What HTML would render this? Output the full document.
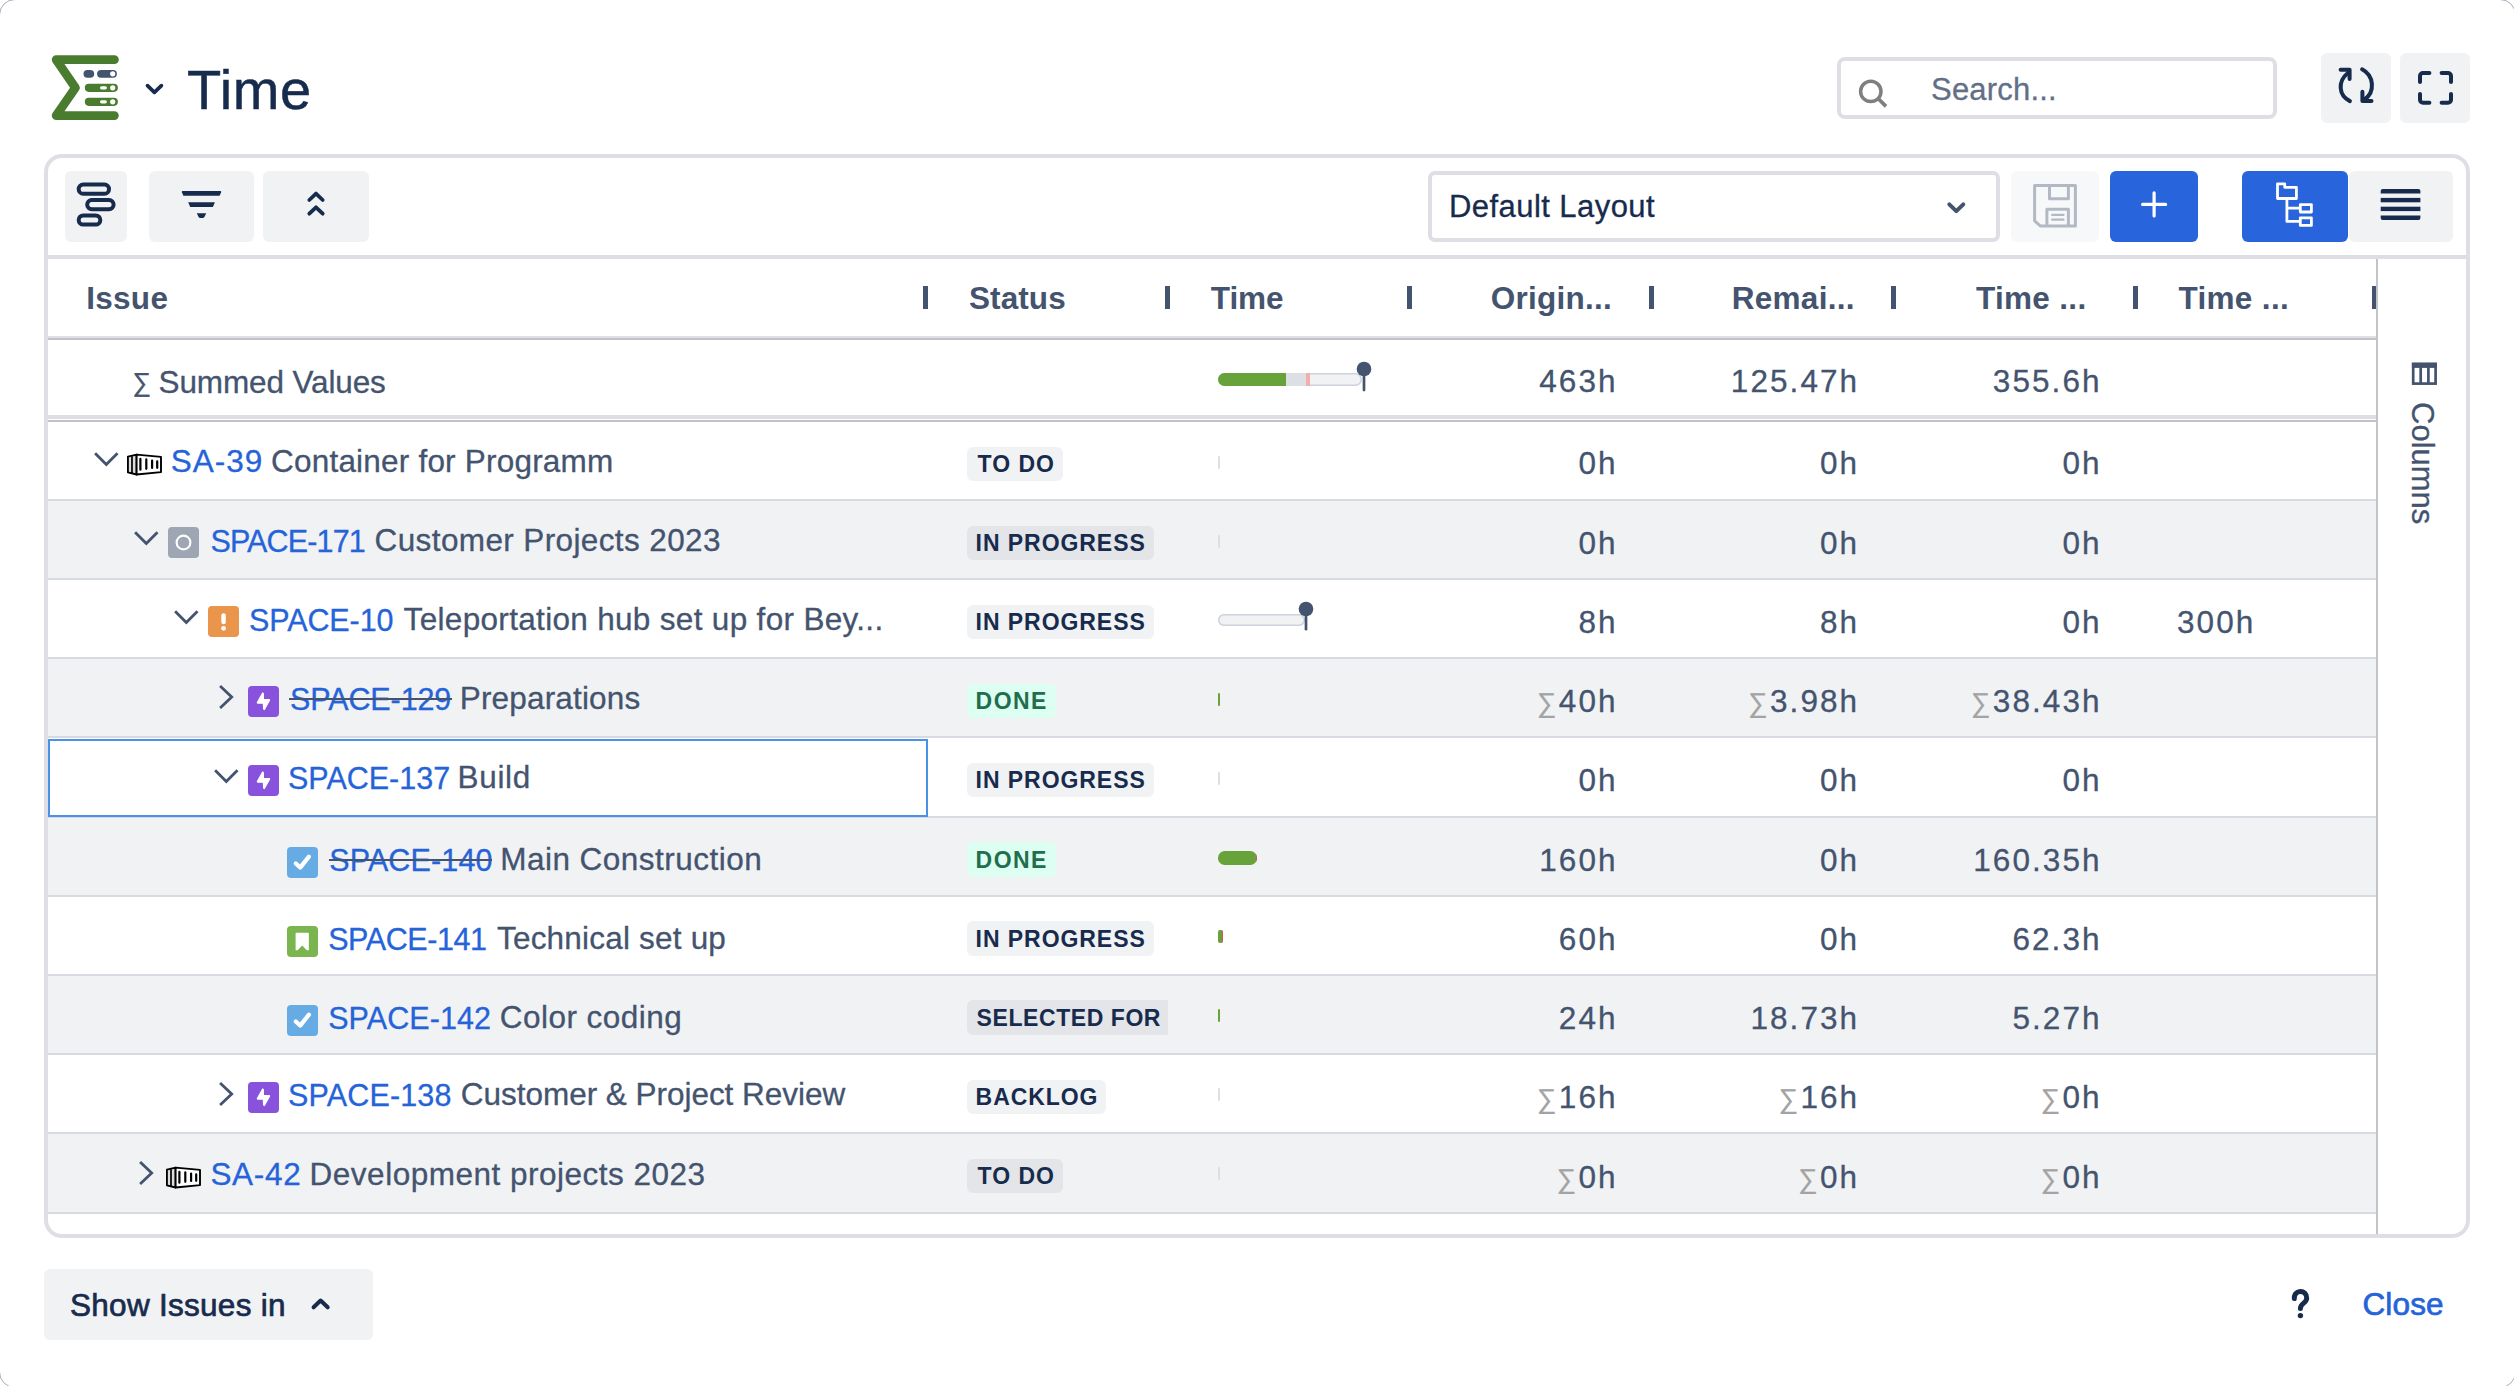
<!DOCTYPE html>
<html lang="en"><head><meta charset="utf-8"><title>Time</title>
<style>
html,body{margin:0;padding:0;background:#fff;}
body{width:2514px;height:1386px;overflow:hidden;position:relative;font-family:"Liberation Sans",sans-serif;}
#app{position:absolute;left:0;top:0;width:2514px;height:1386px;overflow:hidden;background:#fff;}
#app div,#app svg.a{position:absolute;box-sizing:border-box;}
.t{line-height:1;white-space:nowrap;-webkit-text-stroke-width:0.3px;}
.t span{position:static;}
.btn{background:#f1f2f4;border-radius:6px;}
.loz{border-radius:6px;background:rgba(9,30,66,0.06);}
.lozg{border-radius:6px;background:#dcfff1;}
</style></head><body><div id="app">
<div style="left:-1.5px;top:-1.5px;width:2517px;height:1389px;border:1.5px solid #a7abbd;border-radius:16px;"></div>
<svg class="a" style="left:46px;top:50px;" width="80" height="76" viewBox="46 50 80 76">
<path d="M114.4 59.7 H56.2 L75.4 87.7 L56.2 115.6 H114.4" fill="none" stroke="#4a7c2f" stroke-width="8.8" stroke-linecap="round" stroke-linejoin="round"/>
<rect x="83.5" y="69.9" width="10.7" height="7.8" rx="3.9" fill="#44546f"/>
<rect x="97.1" y="69.9" width="19.8" height="7.8" rx="3.9" fill="#44546f"/>
<circle cx="112.7" cy="73.8" r="2.6" fill="#fff"/>
<rect x="84.8" y="83.8" width="33.1" height="8.1" rx="4.05" fill="#4a7c2f"/>
<rect x="100" y="86.3" width="6.9" height="3.1" rx="1.55" fill="#fff"/>
<circle cx="112.7" cy="87.8" r="2.6" fill="#fff"/>
<rect x="84.8" y="97.8" width="33.1" height="8.1" rx="4.05" fill="#4a7c2f"/>
<rect x="100" y="100.3" width="6.9" height="3.1" rx="1.55" fill="#fff"/>
<circle cx="112.7" cy="101.8" r="2.6" fill="#fff"/>
</svg>
<svg class="a" style="left:140px;top:78px;" width="30" height="24" viewBox="140 78 30 24"><path d="M147.5 85.6 L154.4 92.3 L161.4 85.6" fill="none" stroke="#172b4d" stroke-width="3.7" stroke-linecap="round" stroke-linejoin="round"/></svg>
<div class="t" id="title" style="left:187.00px;top:62.20px;font-size:56px;color:#172b4d;letter-spacing:0.59px;-webkit-text-stroke:0.5px #172b4d;">Time</div>
<div style="left:1837px;top:57px;width:440px;height:62px;border:4px solid #dddfe5;border-radius:8px;background:#fff;"></div>
<svg class="a" style="left:1855px;top:75px;" width="36" height="36" viewBox="1855 75 36 36"><circle cx="1870.8" cy="91.4" r="10.2" fill="none" stroke="#7f7f7f" stroke-width="3.5"/><path d="M1878.6 99 L1886 106.4" stroke="#7f7f7f" stroke-width="3.7" stroke-linecap="butt"/></svg>
<div class="t" id="search" style="left:1931.00px;top:73.56px;font-size:31px;color:#626f86;letter-spacing:0.20px;">Search...</div>
<div class="btn" style="left:2321px;top:53px;width:70px;height:70px;"></div>
<div class="btn" style="left:2400px;top:53px;width:70px;height:70px;"></div>
<svg class="a" style="left:2330px;top:60px;" width="52" height="52" viewBox="2330 60 52 52">
<g fill="none" stroke="#172b4d" stroke-width="4" stroke-linecap="round" stroke-linejoin="round">
<path d="M2347.6 73.2 C2337.5 81.5 2338.5 95.5 2349.9 101.1"/>
<path d="M2340.6 69.8 H2349.6 V79"/>
<path d="M2362.1 69.3 C2374 75.5 2375.5 92 2364.5 99.5"/>
<path d="M2362.4 91.7 V101.1 H2371.5"/>
</g></svg>
<svg class="a" style="left:2410px;top:64px;" width="52" height="48" viewBox="2410 64 52 48">
<g fill="none" stroke="#172b4d" stroke-width="4" stroke-linecap="round" stroke-linejoin="round">
<path d="M2420 81.9 V76 a3 3 0 0 1 3 -3 H2429.4"/>
<path d="M2441.6 73 H2448 a3 3 0 0 1 3 3 V81.9"/>
<path d="M2420 93.9 V99.8 a3 3 0 0 0 3 3 H2429.4"/>
<path d="M2441.6 102.8 H2448 a3 3 0 0 0 3 -3 V93.9"/>
</g></svg>
<div style="left:44px;top:154px;width:2426px;height:1084px;border:4px solid #dddfe5;border-radius:18px;background:#fff;"></div>
<div class="btn" style="left:65px;top:171px;width:62px;height:71px;"></div>
<div class="btn" style="left:149px;top:171px;width:105px;height:71px;"></div>
<div class="btn" style="left:263px;top:171px;width:106px;height:71px;"></div>
<svg class="a" style="left:70px;top:176px;" width="52" height="60" viewBox="70 176 52 60">
<g fill="none" stroke="#172b4d" stroke-width="4">
<rect x="78.7" y="184.6" width="30.3" height="9.1" rx="4.55"/>
<rect x="87.2" y="200" width="26.4" height="9.2" rx="4.6"/>
<rect x="78.7" y="215.4" width="21.6" height="9.2" rx="4.6"/>
</g></svg>
<svg class="a" style="left:176px;top:186px;" width="52" height="38" viewBox="176 186 52 38">
<g fill="#172b4d">
<path d="M182.6 191.1 H220.4 Q221.6 191.1 221.1 192.3 L219.6 195.8 H183.4 L181.9 192.3 Q181.4 191.1 182.6 191.1 Z"/>
<path d="M188.2 202.3 H214.9 L212.9 207 H190.2 Z"/>
<path d="M196.8 213.2 H206.2 L204.4 217 Q203.9 217.9 202.9 217.9 H200.1 Q199.1 217.9 198.6 217 Z"/>
</g></svg>
<svg class="a" style="left:300px;top:186px;" width="32" height="34" viewBox="300 186 32 34">
<g fill="none" stroke="#172b4d" stroke-width="3.8" stroke-linecap="round" stroke-linejoin="round">
<path d="M309.3 200 L316 193.6 L322.7 200"/>
<path d="M309.3 213.7 L316 207.3 L322.7 213.7"/>
</g></svg>
<div style="left:1428px;top:171px;width:572px;height:71px;border:4px solid #dddfe5;border-radius:7px;background:#fff;"></div>
<div class="t" id="deflayout" style="left:1449.00px;top:190.76px;font-size:31px;color:#172b4d;letter-spacing:0.44px;">Default Layout</div>
<svg class="a" style="left:1940px;top:196px;" width="32" height="24" viewBox="1940 196 32 24"><path d="M1949.3 204.3 L1956.3 211.2 L1963.3 204.3" fill="none" stroke="#44546f" stroke-width="4" stroke-linecap="round" stroke-linejoin="round"/></svg>
<div style="left:2011px;top:171px;width:88px;height:71px;background:#f7f8f9;border-radius:6px;"></div>
<svg class="a" style="left:2028px;top:180px;" width="54" height="52" viewBox="2028 180 54 52">
<g fill="none" stroke="#b3b9c4" stroke-width="3" stroke-linejoin="round">
<path d="M2034.6 185.6 H2075.4 V225.9 H2040.3 L2034.6 220.8 Z"/>
<path d="M2049.5 185.6 V198.8 H2068.4 V185.6"/>
<path d="M2046.9 225.9 V209.2 H2068.4 V225.9"/>
</g>
<path d="M2051.3 214.9 H2064.4 M2051.3 219.7 H2064.4" stroke="#b3b9c4" stroke-width="2.2"/>
</svg>
<div style="left:2110px;top:171px;width:88px;height:71px;background:#2864dc;border-radius:6px;"></div>
<svg class="a" style="left:2136px;top:186px;" width="36" height="36" viewBox="2136 186 36 36"><path d="M2142.6 204.4 H2165.6 M2154.1 192.9 V215.9" stroke="#fff" stroke-width="3.2" stroke-linecap="round"/></svg>
<div style="left:2348.5px;top:171px;width:104.5px;height:71px;background:#f1f2f4;border-radius:6px;"></div>
<div style="left:2242px;top:171px;width:106px;height:71px;background:#2864dc;border-radius:6px;"></div>
<svg class="a" style="left:2270px;top:178px;" width="50" height="54" viewBox="2270 178 50 54">
<g fill="none" stroke="#fff" stroke-width="2.8" stroke-linejoin="round">
<path d="M2277.5 183.8 H2284.7 V187.3 H2296.4 V198.5 H2277.5 Z"/>
<path d="M2286.9 198.5 V221.4 H2300.3 M2286.9 208.1 H2300.3"/>
<rect x="2300.3" y="204.6" width="11.1" height="7.4"/>
<rect x="2300.3" y="217.8" width="11.1" height="7.6"/>
</g></svg>
<svg class="a" style="left:2378px;top:186px;" width="46" height="36" viewBox="2378 186 46 36">
<g fill="#172b4d">
<path d="M2382.7 189 H2418.4 a2 2 0 0 1 2 2 V193.5 H2380.7 V191 a2 2 0 0 1 2 -2 Z"/>
<rect x="2380.7" y="197.9" width="39.7" height="4.4"/>
<rect x="2380.7" y="206.7" width="39.7" height="4.4"/>
<path d="M2380.7 215.4 H2420.4 V218 a2 2 0 0 1 -2 2 H2382.7 a2 2 0 0 1 -2 -2 Z"/>
</g></svg>
<div style="left:48px;top:255px;width:2418px;height:4px;background:#dddfe5;"></div>
<div class="t" id="h_issue" style="left:86.20px;top:282.54px;font-size:31.5px;color:#44546f;font-weight:700;-webkit-text-stroke-width:0;letter-spacing:0.29px;">Issue</div>
<div class="t" id="h_status" style="left:969.00px;top:282.54px;font-size:31.5px;color:#44546f;font-weight:700;-webkit-text-stroke-width:0;letter-spacing:0.09px;">Status</div>
<div class="t" id="h_time" style="left:1210.80px;top:282.54px;font-size:31.5px;color:#44546f;font-weight:700;-webkit-text-stroke-width:0;letter-spacing:-0.09px;">Time</div>
<div class="t" id="h_orig" style="left:1490.80px;top:282.54px;font-size:31.5px;color:#44546f;font-weight:700;-webkit-text-stroke-width:0;letter-spacing:0.24px;">Origin...</div>
<div class="t" id="h_rem" style="left:1731.80px;top:282.54px;font-size:31.5px;color:#44546f;font-weight:700;-webkit-text-stroke-width:0;letter-spacing:0.26px;">Remai...</div>
<div class="t" id="h_ts" style="left:1976.00px;top:282.54px;font-size:31.5px;color:#44546f;font-weight:700;-webkit-text-stroke-width:0;letter-spacing:0.31px;">Time ...</div>
<div class="t" id="h_ts2" style="left:2178.40px;top:282.54px;font-size:31.5px;color:#44546f;font-weight:700;-webkit-text-stroke-width:0;letter-spacing:0.34px;">Time ...</div>
<div style="left:923px;top:286px;width:5px;height:23px;background:#44546f;"></div>
<div style="left:1165px;top:286px;width:5px;height:23px;background:#44546f;"></div>
<div style="left:1407px;top:286px;width:5px;height:23px;background:#44546f;"></div>
<div style="left:1649px;top:286px;width:5px;height:23px;background:#44546f;"></div>
<div style="left:1891px;top:286px;width:5px;height:23px;background:#44546f;"></div>
<div style="left:2133px;top:286px;width:5px;height:23px;background:#44546f;"></div>
<div style="left:2372px;top:286px;width:4px;height:23px;background:#44546f;"></div>
<div style="left:48px;top:336px;width:2328px;height:2px;background:#dddfe5;"></div>
<div style="left:48px;top:338px;width:2328px;height:2px;background:#c1c3c7;"></div>
<div class="t" id="summed_sig" style="left:132.40px;top:369.19px;font-size:26px;color:#44546f;">∑</div>
<div class="t" id="summed" style="left:158.60px;top:366.74px;font-size:31.5px;color:#44546f;letter-spacing:-0.13px;">Summed Values</div>
<div style="left:48px;top:415px;width:2328px;height:4px;background:#dddfe5;"></div>
<div style="left:48px;top:420px;width:2328px;height:2px;background:#c1c3c7;"></div>
<div style="left:1218px;top:373px;width:144px;height:13px;border-radius:6.5px;overflow:hidden;background:#f1f2f4;box-shadow:inset 0 0 0 1.5px #cdd2db;"><div style="left:0;top:0;width:68px;height:13px;background:#67a33a;"></div><div style="left:68px;top:0;width:20px;height:13px;background:#dcdfe4;"></div><div style="left:88px;top:0;width:4px;height:13px;background:#f4acad;"></div></div>
<svg class="a" style="left:1353.5px;top:358.6px;" width="20" height="36.39999999999998" viewBox="1353.5 358.6 20 36.39999999999998"><circle cx="1363.5" cy="368.6" r="7.3" fill="#44546f"/><path d="M1363.5 368.6 V389.7" stroke="#44546f" stroke-width="2.7" stroke-linecap="round"/></svg>
<div class="t" id="sv0" style="right:896.43px;top:366.24px;font-size:31.5px;color:#44546f;letter-spacing:2.07px;text-align:right;">463h</div>
<div class="t" id="sv1" style="right:654.83px;top:366.24px;font-size:31.5px;color:#44546f;letter-spacing:2.07px;text-align:right;">125.47h</div>
<div class="t" id="sv2" style="right:412.43px;top:366.24px;font-size:31.5px;color:#44546f;letter-spacing:2.07px;text-align:right;">355.6h</div>
<div style="left:48px;top:422px;width:2328px;height:79px;background:#fff;"></div>
<div style="left:48px;top:499px;width:2328px;height:2px;background:#d8dae1;"></div>
<div style="left:48px;top:501px;width:2328px;height:79px;background:#f1f2f4;"></div>
<div style="left:48px;top:578px;width:2328px;height:2px;background:#d8dae1;"></div>
<div style="left:48px;top:580px;width:2328px;height:79px;background:#fff;"></div>
<div style="left:48px;top:657px;width:2328px;height:2px;background:#d8dae1;"></div>
<div style="left:48px;top:659px;width:2328px;height:79px;background:#f1f2f4;"></div>
<div style="left:48px;top:736px;width:2328px;height:2px;background:#d8dae1;"></div>
<div style="left:48px;top:738px;width:2328px;height:79.5px;background:#fff;"></div>
<div style="left:48px;top:815.5px;width:2328px;height:2px;background:#d8dae1;"></div>
<div style="left:48px;top:817.5px;width:2328px;height:79.10000000000002px;background:#f1f2f4;"></div>
<div style="left:48px;top:894.6px;width:2328px;height:2px;background:#d8dae1;"></div>
<div style="left:48px;top:896.6px;width:2328px;height:79.10000000000002px;background:#fff;"></div>
<div style="left:48px;top:973.7px;width:2328px;height:2px;background:#d8dae1;"></div>
<div style="left:48px;top:975.7px;width:2328px;height:79.09999999999991px;background:#f1f2f4;"></div>
<div style="left:48px;top:1052.8px;width:2328px;height:2px;background:#d8dae1;"></div>
<div style="left:48px;top:1054.8px;width:2328px;height:79.10000000000014px;background:#fff;"></div>
<div style="left:48px;top:1131.9px;width:2328px;height:2px;background:#d8dae1;"></div>
<div style="left:48px;top:1133.9px;width:2328px;height:80.09999999999991px;background:#f1f2f4;"></div>
<div style="left:48px;top:1212px;width:2328px;height:2px;background:#d8dae1;"></div>
<svg class="a" style="left:92.4px;top:450px;" width="30" height="20" viewBox="92.4 450 30 20"><path d="M95.5 453.2 L106.7 464.6 L117.9 453.2" fill="none" stroke="#44546f" stroke-width="2.8"/></svg>
<svg class="a" style="left:127px;top:452.8px;" width="36" height="24" viewBox="127 452.8 36 24"><path d="M136.6 454.40000000000003 L127.9 456.40000000000003 V472.1 L136.6 474.3 Z" fill="#dcdcdc" stroke="#000" stroke-width="1.9" stroke-linejoin="round"/>
<path d="M136.6 454.40000000000003 L161 456.7 V471.90000000000003 L136.6 474.3 Z" fill="#fff" stroke="#000" stroke-width="1.9" stroke-linejoin="round"/>
<path d="M132 456.0 V472.8" stroke="#000" stroke-width="1.7"/>
<g stroke="#000" stroke-width="2.2" stroke-linecap="round">
<path d="M140.4 458.7 V469.5 M146.3 459.2 V468.6 M152.1 460.3 V467.7 M157.2 461.1 V467.6"/>
</g></svg>
<div class="t" id="r0k" style="left:170.80px;top:446.04px;font-size:31.5px;color:#2563d9;letter-spacing:1.00px;">SA-39</div>
<div class="t" id="r0t" style="left:271.00px;top:446.04px;font-size:31.5px;color:#44546f;letter-spacing:0.21px;">Container for Programm</div>
<div class="loz" style="left:967px;top:446.7px;width:95.6px;height:34.5px;"></div>
<div class="t" id="r0s" style="left:977.60px;top:453.33px;font-size:23px;color:#172b4d;font-weight:700;-webkit-text-stroke-width:0;letter-spacing:0.97px;">TO DO</div>
<div style="left:1218px;top:455.5px;width:2px;height:13px;background:#dcdfe4;border-radius:1px;"></div>
<div class="t" id="r0v0" style="right:896.43px;top:448.44px;font-size:31.5px;color:#44546f;letter-spacing:2.07px;text-align:right;">0h</div>
<div class="t" id="r0v1" style="right:654.83px;top:448.44px;font-size:31.5px;color:#44546f;letter-spacing:2.07px;text-align:right;">0h</div>
<div class="t" id="r0v2" style="right:412.43px;top:448.44px;font-size:31.5px;color:#44546f;letter-spacing:2.07px;text-align:right;">0h</div>
<svg class="a" style="left:132.2px;top:528.8px;" width="30" height="20" viewBox="132.2 528.8 30 20"><path d="M135.29999999999998 532.0 L146.5 543.4 L157.7 532.0" fill="none" stroke="#44546f" stroke-width="2.8"/></svg>
<div style="left:168px;top:527.1px;width:31px;height:31px;background:#9ea5b3;border-radius:4px;"></div>
<svg class="a" style="left:168px;top:527.1px;" width="31" height="31" viewBox="168 527.1 31 31"><circle cx="183.5" cy="542.6" r="6.9" fill="none" stroke="#fff" stroke-width="2.1"/></svg>
<div class="t" id="r1k" style="left:210.40px;top:525.58px;font-size:30.5px;color:#2563d9;letter-spacing:-0.85px;">SPACE-171</div>
<div class="t" id="r1t" style="left:374.60px;top:524.74px;font-size:31.5px;color:#44546f;letter-spacing:0.38px;">Customer Projects 2023</div>
<div class="loz" style="left:967px;top:525.7px;width:186.8px;height:34.5px;"></div>
<div class="t" id="r1s" style="left:975.60px;top:532.33px;font-size:23px;color:#172b4d;font-weight:700;-webkit-text-stroke-width:0;letter-spacing:0.94px;">IN PROGRESS</div>
<div style="left:1218px;top:534.5px;width:2px;height:13px;background:#dcdfe4;border-radius:1px;"></div>
<div class="t" id="r1v0" style="right:896.43px;top:527.67px;font-size:31.5px;color:#44546f;letter-spacing:2.07px;text-align:right;">0h</div>
<div class="t" id="r1v1" style="right:654.83px;top:527.67px;font-size:31.5px;color:#44546f;letter-spacing:2.07px;text-align:right;">0h</div>
<div class="t" id="r1v2" style="right:412.43px;top:527.67px;font-size:31.5px;color:#44546f;letter-spacing:2.07px;text-align:right;">0h</div>
<svg class="a" style="left:172px;top:607.7px;" width="30" height="20" viewBox="172 607.7 30 20"><path d="M175.1 610.9000000000001 L186.3 622.3000000000001 L197.5 610.9000000000001" fill="none" stroke="#44546f" stroke-width="2.8"/></svg>
<div style="left:208px;top:606.2px;width:31px;height:31px;background:#e9964c;border-radius:4px;"></div>
<svg class="a" style="left:208px;top:606.2px;" width="31" height="31" viewBox="208 606.2 31 31"><rect x="221.3" y="613.5" width="4.5" height="11" rx="2.2" fill="#fff"/><circle cx="223.55" cy="628.5" r="2.4" fill="#fff"/></svg>
<div class="t" id="r2k" style="left:249.00px;top:605.08px;font-size:30.5px;color:#2563d9;letter-spacing:-0.11px;">SPACE-10</div>
<div class="t" id="r2t" style="left:403.60px;top:604.24px;font-size:31.5px;color:#44546f;letter-spacing:0.32px;">Teleportation hub set up for Bey...</div>
<div class="loz" style="left:967px;top:604.7px;width:186.8px;height:34.5px;"></div>
<div class="t" id="r2s" style="left:975.60px;top:611.33px;font-size:23px;color:#172b4d;font-weight:700;-webkit-text-stroke-width:0;letter-spacing:0.94px;">IN PROGRESS</div>
<div style="left:1218px;top:613.5px;width:86.5px;height:12.8px;border-radius:6.4px;background:#f1f2f4;box-shadow:inset 0 0 0 1.5px #cdd2db;"></div>
<svg class="a" style="left:1296px;top:598.7px;" width="20" height="35.5" viewBox="1296 598.7 20 35.5"><circle cx="1306" cy="608.7" r="7.3" fill="#44546f"/><path d="M1306 608.7 V628.9000000000001" stroke="#44546f" stroke-width="2.7" stroke-linecap="round"/></svg>
<div class="t" id="r2v0" style="right:896.43px;top:606.90px;font-size:31.5px;color:#44546f;letter-spacing:2.07px;text-align:right;">8h</div>
<div class="t" id="r2v1" style="right:654.83px;top:606.90px;font-size:31.5px;color:#44546f;letter-spacing:2.07px;text-align:right;">8h</div>
<div class="t" id="r2v2" style="right:412.43px;top:606.90px;font-size:31.5px;color:#44546f;letter-spacing:2.07px;text-align:right;">0h</div>
<div class="t" id="r2v3" style="left:2177px;top:606.90px;font-size:31.5px;color:#44546f;letter-spacing:2.07px;">300h</div>
<svg class="a" style="left:216.6px;top:683.2px;" width="20" height="30" viewBox="216.6 683.2 20 30"><path d="M219.7 686.3000000000001 L231.29999999999998 697.3000000000001 L219.7 708.3000000000001" fill="none" stroke="#44546f" stroke-width="2.8"/></svg>
<div style="left:248.2px;top:685.6px;width:31px;height:31px;background:#8852dc;border-radius:4px;"></div>
<svg class="a" style="left:248.2px;top:685.6px;" width="31" height="31" viewBox="248.2 685.6 31 31"><polygon points="262.8,692.5 263.6,693.2 263.6,699.1 269.7,699.2 269.8,699.8 264.6,709.2 263.8,708.7 263.5,702.8 257.7,702.7 257.5,702.1" fill="#fff" stroke="#fff" stroke-width="1.1" stroke-linejoin="round"/></svg>
<div class="t" id="r3k" style="left:290.00px;top:683.78px;font-size:30.5px;color:#2563d9;letter-spacing:-0.11px;">SPACE-129</div>
<div class="t" id="r3t" style="left:459.80px;top:682.94px;font-size:31.5px;color:#44546f;letter-spacing:0.16px;">Preparations</div>
<div style="left:289.0px;top:698px;width:162.5px;height:2px;background:#44546f;"></div>
<div class="lozg" style="left:967px;top:683.7px;width:88.6px;height:34.5px;"></div>
<div class="t" id="r3s" style="left:975.60px;top:690.33px;font-size:23px;color:#216e4e;font-weight:700;-webkit-text-stroke-width:0;letter-spacing:1.44px;">DONE</div>
<div style="left:1218px;top:692.5px;width:1.6px;height:13px;background:#67a33a;border-radius:1px;"></div>
<div class="t" id="r3v0" style="right:896.43px;top:686.13px;font-size:31.5px;color:#44546f;letter-spacing:2.07px;text-align:right;"><span style="color:#a3a3a3;letter-spacing:0;padding-right:2.5px;font-size:27px;">∑</span>40h</div>
<div class="t" id="r3v1" style="right:654.83px;top:686.13px;font-size:31.5px;color:#44546f;letter-spacing:2.07px;text-align:right;"><span style="color:#a3a3a3;letter-spacing:0;padding-right:2.5px;font-size:27px;">∑</span>3.98h</div>
<div class="t" id="r3v2" style="right:412.43px;top:686.13px;font-size:31.5px;color:#44546f;letter-spacing:2.07px;text-align:right;"><span style="color:#a3a3a3;letter-spacing:0;padding-right:2.5px;font-size:27px;">∑</span>38.43h</div>
<div style="left:48px;top:739px;width:880px;height:77.5px;border:2px solid #4a92e8;background:#fff;"></div>
<svg class="a" style="left:211.8px;top:766.9px;" width="30" height="20" viewBox="211.8 766.9 30 20"><path d="M214.9 770.1 L226.10000000000002 781.5 L237.3 770.1" fill="none" stroke="#44546f" stroke-width="2.8"/></svg>
<div style="left:248.2px;top:765px;width:31px;height:31px;background:#8852dc;border-radius:4px;"></div>
<svg class="a" style="left:248.2px;top:765px;" width="31" height="31" viewBox="248.2 765 31 31"><polygon points="262.8,771.9 263.6,772.6 263.6,778.5 269.7,778.6 269.8,779.2 264.6,788.6 263.8,788.1 263.5,782.2 257.7,782.1 257.5,781.5" fill="#fff" stroke="#fff" stroke-width="1.1" stroke-linejoin="round"/></svg>
<div class="t" id="r4k" style="left:288.00px;top:763.28px;font-size:30.5px;color:#2563d9;letter-spacing:-0.01px;">SPACE-137</div>
<div class="t" id="r4t" style="left:457.40px;top:762.44px;font-size:31.5px;color:#44546f;letter-spacing:0.73px;">Build</div>
<div class="loz" style="left:967px;top:762.7px;width:186.8px;height:34.5px;"></div>
<div class="t" id="r4s" style="left:975.60px;top:769.33px;font-size:23px;color:#172b4d;font-weight:700;-webkit-text-stroke-width:0;letter-spacing:0.94px;">IN PROGRESS</div>
<div style="left:1218px;top:771.5px;width:2px;height:13px;background:#dcdfe4;border-radius:1px;"></div>
<div class="t" id="r4v0" style="right:896.43px;top:765.36px;font-size:31.5px;color:#44546f;letter-spacing:2.07px;text-align:right;">0h</div>
<div class="t" id="r4v1" style="right:654.83px;top:765.36px;font-size:31.5px;color:#44546f;letter-spacing:2.07px;text-align:right;">0h</div>
<div class="t" id="r4v2" style="right:412.43px;top:765.36px;font-size:31.5px;color:#44546f;letter-spacing:2.07px;text-align:right;">0h</div>
<div style="left:287.3px;top:846.8px;width:31px;height:31px;background:#67abe4;border-radius:4px;"></div>
<svg class="a" style="left:287.3px;top:846.8px;" width="31" height="31" viewBox="287.3 846.8 31 31"><path d="M296.1 863.1999999999999 L300.5 867.4 L309.2 856.4" fill="none" stroke="#fff" stroke-width="4.2" stroke-linecap="round" stroke-linejoin="round"/></svg>
<div class="t" id="r5k" style="left:329.20px;top:844.88px;font-size:30.5px;color:#2563d9;letter-spacing:0.14px;">SPACE-140</div>
<div class="t" id="r5t" style="left:500.20px;top:844.04px;font-size:31.5px;color:#44546f;letter-spacing:0.48px;">Main Construction</div>
<div style="left:328.8px;top:859px;width:163.5px;height:2px;background:#44546f;"></div>
<div class="lozg" style="left:967px;top:842.2px;width:88.6px;height:34.5px;"></div>
<div class="t" id="r5s" style="left:975.60px;top:848.83px;font-size:23px;color:#216e4e;font-weight:700;-webkit-text-stroke-width:0;letter-spacing:1.44px;">DONE</div>
<div style="left:1218px;top:851.0px;width:39px;height:13.5px;background:#67a33a;border-radius:6.75px;overflow:hidden;"><div style="right:0;top:0;width:1.5px;height:14px;background:#d0584e;"></div></div>
<div class="t" id="r5v0" style="right:896.43px;top:844.59px;font-size:31.5px;color:#44546f;letter-spacing:2.07px;text-align:right;">160h</div>
<div class="t" id="r5v1" style="right:654.83px;top:844.59px;font-size:31.5px;color:#44546f;letter-spacing:2.07px;text-align:right;">0h</div>
<div class="t" id="r5v2" style="right:412.43px;top:844.59px;font-size:31.5px;color:#44546f;letter-spacing:2.07px;text-align:right;">160.35h</div>
<div style="left:287.2px;top:926.1px;width:31px;height:31px;background:#7ab550;border-radius:4px;"></div>
<svg class="a" style="left:287.2px;top:926.1px;" width="31" height="31" viewBox="287.2 926.1 31 31"><path d="M296.4 933.5 H308.4 V949.8000000000001 H307.2 L302.4 944.6 L297.59999999999997 949.8000000000001 H296.4 Z" fill="#fff" stroke="#fff" stroke-width="1.2" stroke-linejoin="round"/></svg>
<div class="t" id="r6k" style="left:328.20px;top:923.98px;font-size:30.5px;color:#2563d9;letter-spacing:-0.43px;">SPACE-141</div>
<div class="t" id="r6t" style="left:497.00px;top:923.14px;font-size:31.5px;color:#44546f;letter-spacing:0.20px;">Technical set up</div>
<div class="loz" style="left:967px;top:921.3000000000001px;width:186.8px;height:34.5px;"></div>
<div class="t" id="r6s" style="left:975.60px;top:927.93px;font-size:23px;color:#172b4d;font-weight:700;-webkit-text-stroke-width:0;letter-spacing:0.94px;">IN PROGRESS</div>
<div style="left:1218px;top:930.1px;width:4.5px;height:13px;background:#67a33a;border-radius:2px;border-right:1.5px solid #d0584e;"></div>
<div class="t" id="r6v0" style="right:896.43px;top:923.82px;font-size:31.5px;color:#44546f;letter-spacing:2.07px;text-align:right;">60h</div>
<div class="t" id="r6v1" style="right:654.83px;top:923.82px;font-size:31.5px;color:#44546f;letter-spacing:2.07px;text-align:right;">0h</div>
<div class="t" id="r6v2" style="right:412.43px;top:923.82px;font-size:31.5px;color:#44546f;letter-spacing:2.07px;text-align:right;">62.3h</div>
<div style="left:287.2px;top:1005.4px;width:31px;height:31px;background:#67abe4;border-radius:4px;"></div>
<svg class="a" style="left:287.2px;top:1005.4px;" width="31" height="31" viewBox="287.2 1005.4 31 31"><path d="M296.0 1021.8 L300.4 1026.0 L309.09999999999997 1015.0" fill="none" stroke="#fff" stroke-width="4.2" stroke-linecap="round" stroke-linejoin="round"/></svg>
<div class="t" id="r7k" style="left:328.20px;top:1003.08px;font-size:30.5px;color:#2563d9;letter-spacing:0.07px;">SPACE-142</div>
<div class="t" id="r7t" style="left:499.80px;top:1002.24px;font-size:31.5px;color:#44546f;letter-spacing:0.46px;">Color coding</div>
<div class="loz" style="left:967px;top:1000.4000000000001px;width:201px;height:34.5px;border-top-right-radius:0;border-bottom-right-radius:0;"></div>
<div class="t" id="r7s" style="left:976.60px;top:1007.03px;font-size:23px;color:#172b4d;font-weight:700;-webkit-text-stroke-width:0;letter-spacing:0.57px;">SELECTED FOR</div>
<div style="left:1218px;top:1009.2px;width:1.6px;height:13px;background:#67a33a;border-radius:1px;"></div>
<div class="t" id="r7v0" style="right:896.43px;top:1003.05px;font-size:31.5px;color:#44546f;letter-spacing:2.07px;text-align:right;">24h</div>
<div class="t" id="r7v1" style="right:654.83px;top:1003.05px;font-size:31.5px;color:#44546f;letter-spacing:2.07px;text-align:right;">18.73h</div>
<div class="t" id="r7v2" style="right:412.43px;top:1003.05px;font-size:31.5px;color:#44546f;letter-spacing:2.07px;text-align:right;">5.27h</div>
<svg class="a" style="left:216.6px;top:1079.7px;" width="20" height="30" viewBox="216.6 1079.7 20 30"><path d="M219.7 1082.8 L231.29999999999998 1093.8 L219.7 1104.8" fill="none" stroke="#44546f" stroke-width="2.8"/></svg>
<div style="left:248.1px;top:1081.7px;width:31px;height:31px;background:#8852dc;border-radius:4px;"></div>
<svg class="a" style="left:248.1px;top:1081.7px;" width="31" height="31" viewBox="248.1 1081.7 31 31"><polygon points="262.7,1088.6 263.5,1089.3 263.5,1095.2 269.6,1095.3 269.7,1095.9 264.5,1105.3 263.7,1104.8 263.4,1098.9 257.6,1098.8 257.4,1098.2" fill="#fff" stroke="#fff" stroke-width="1.1" stroke-linejoin="round"/></svg>
<div class="t" id="r8k" style="left:288.00px;top:1080.08px;font-size:30.5px;color:#2563d9;letter-spacing:0.15px;">SPACE-138</div>
<div class="t" id="r8t" style="left:460.80px;top:1079.24px;font-size:31.5px;color:#44546f;letter-spacing:-0.03px;">Customer &amp; Project Review</div>
<div class="loz" style="left:967px;top:1079.5px;width:138.6px;height:34.5px;"></div>
<div class="t" id="r8s" style="left:975.60px;top:1086.13px;font-size:23px;color:#172b4d;font-weight:700;-webkit-text-stroke-width:0;letter-spacing:0.93px;">BACKLOG</div>
<div style="left:1218px;top:1088.3px;width:2px;height:13px;background:#dcdfe4;border-radius:1px;"></div>
<div class="t" id="r8v0" style="right:896.43px;top:1082.28px;font-size:31.5px;color:#44546f;letter-spacing:2.07px;text-align:right;"><span style="color:#a3a3a3;letter-spacing:0;padding-right:2.5px;font-size:27px;">∑</span>16h</div>
<div class="t" id="r8v1" style="right:654.83px;top:1082.28px;font-size:31.5px;color:#44546f;letter-spacing:2.07px;text-align:right;"><span style="color:#a3a3a3;letter-spacing:0;padding-right:2.5px;font-size:27px;">∑</span>16h</div>
<div class="t" id="r8v2" style="right:412.43px;top:1082.28px;font-size:31.5px;color:#44546f;letter-spacing:2.07px;text-align:right;"><span style="color:#a3a3a3;letter-spacing:0;padding-right:2.5px;font-size:27px;">∑</span>0h</div>
<svg class="a" style="left:137px;top:1158.6px;" width="20" height="30" viewBox="137 1158.6 20 30"><path d="M140.1 1161.6999999999998 L151.7 1172.6999999999998 L140.1 1183.6999999999998" fill="none" stroke="#44546f" stroke-width="2.8"/></svg>
<svg class="a" style="left:165.8px;top:1165.6px;" width="36" height="24" viewBox="165.8 1165.6 36 24"><path d="M175.4 1167.1999999999998 L166.70000000000002 1169.1999999999998 V1184.8999999999999 L175.4 1187.1 Z" fill="#dcdcdc" stroke="#000" stroke-width="1.9" stroke-linejoin="round"/>
<path d="M175.4 1167.1999999999998 L199.8 1169.5 V1184.6999999999998 L175.4 1187.1 Z" fill="#fff" stroke="#000" stroke-width="1.9" stroke-linejoin="round"/>
<path d="M170.8 1168.8 V1185.6" stroke="#000" stroke-width="1.7"/>
<g stroke="#000" stroke-width="2.2" stroke-linecap="round">
<path d="M179.20000000000002 1171.5 V1182.3 M185.10000000000002 1172.0 V1181.3999999999999 M190.9 1173.1 V1180.5 M196.0 1173.8999999999999 V1180.3999999999999"/>
</g></svg>
<div class="t" id="r9k" style="left:210.40px;top:1158.74px;font-size:31.5px;color:#2563d9;letter-spacing:0.69px;">SA-42</div>
<div class="t" id="r9t" style="left:309.60px;top:1158.74px;font-size:31.5px;color:#44546f;letter-spacing:0.50px;">Development projects 2023</div>
<div class="loz" style="left:967px;top:1158.6000000000001px;width:95.6px;height:34.5px;"></div>
<div class="t" id="r9s" style="left:977.60px;top:1165.23px;font-size:23px;color:#172b4d;font-weight:700;-webkit-text-stroke-width:0;letter-spacing:0.97px;">TO DO</div>
<div style="left:1218px;top:1167.4px;width:2px;height:13px;background:#dcdfe4;border-radius:1px;"></div>
<div class="t" id="r9v0" style="right:896.43px;top:1161.51px;font-size:31.5px;color:#44546f;letter-spacing:2.07px;text-align:right;"><span style="color:#a3a3a3;letter-spacing:0;padding-right:2.5px;font-size:27px;">∑</span>0h</div>
<div class="t" id="r9v1" style="right:654.83px;top:1161.51px;font-size:31.5px;color:#44546f;letter-spacing:2.07px;text-align:right;"><span style="color:#a3a3a3;letter-spacing:0;padding-right:2.5px;font-size:27px;">∑</span>0h</div>
<div class="t" id="r9v2" style="right:412.43px;top:1161.51px;font-size:31.5px;color:#44546f;letter-spacing:2.07px;text-align:right;"><span style="color:#a3a3a3;letter-spacing:0;padding-right:2.5px;font-size:27px;">∑</span>0h</div>
<div style="left:2376px;top:259px;width:2px;height:975px;background:#c2c4c8;"></div>
<svg class="a" style="left:2408px;top:360px;" width="34" height="30" viewBox="2408 360 34 30">
<rect x="2413.2" y="364" width="22.4" height="19.6" fill="none" stroke="#44546f" stroke-width="2.7"/>
<rect x="2411.9" y="362.7" width="25.1" height="5.2" fill="#44546f"/>
<path d="M2420.7 366 V384 M2428.4 366 V384" stroke="#44546f" stroke-width="2.7"/></svg>
<div class="t" id="cols" style="left:2411.9px;top:402px;font-size:31px;color:#44546f;transform-origin:0 0;transform:rotate(90deg) translate(0,-100%);line-height:1;height:31px;"><span style="position:relative;top:4.7px;">Columns</span></div>
<div class="btn" style="left:44px;top:1269px;width:329px;height:71px;"></div>
<div class="t" id="showin" style="left:70.00px;top:1289.74px;font-size:31.5px;color:#172b4d;letter-spacing:0.28px;-webkit-text-stroke:0.7px #172b4d;">Show Issues in</div>
<svg class="a" style="left:306px;top:1292px;" width="30" height="24" viewBox="306 1292 30 24"><path d="M313.6 1307.3 L320.6 1300.5 L327.7 1307.3" fill="none" stroke="#172b4d" stroke-width="4" stroke-linecap="round" stroke-linejoin="round"/></svg>
<svg class="a" style="left:2286px;top:1284px;" width="30" height="40" viewBox="2286 1284 30 40">
<path d="M2294.3 1298.6 C2293.8 1289.3 2306.9 1289.3 2306.7 1298.2 C2306.6 1303.4 2300.4 1303 2300.4 1308.6" fill="none" stroke="#172b4d" stroke-width="5" stroke-linecap="round" stroke-linejoin="round"/>
<circle cx="2300.4" cy="1315.6" r="2.7" fill="#172b4d"/></svg>
<div class="t" id="close" style="left:2362.40px;top:1289.34px;font-size:31.5px;color:#2563d9;letter-spacing:0.16px;-webkit-text-stroke:0.7px #2563d9;">Close</div>
</div><script>(function(){try{var w=window.innerWidth;if(w&&Math.abs(w-2514)>2){var a=document.getElementById("app");a.style.transformOrigin="0 0";a.style.transform="scale("+(w/2514)+")";}}catch(e){}})();</script></body></html>
